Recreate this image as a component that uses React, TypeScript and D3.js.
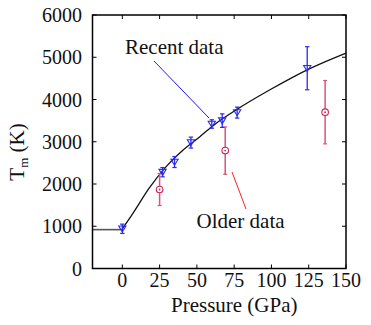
import React from "react";
import * as d3 from "d3";

const xTicks = [0, 25, 50, 75, 100, 125, 150];
const yTicks = [0, 1000, 2000, 3000, 4000, 5000, 6000];

// melting curve
const curveP = [0, 7, 18, 29.4, 40.6, 52, 63, 76.6, 99, 125, 150];
const curveT = [940, 1300, 1900, 2410, 2800, 3120, 3440, 3760, 4230, 4720, 5100];
const flatP = [-20, 0];
const flatT = [920, 920];

// recent data (blue)
const recentP = [0, 27, 35, 46, 60, 67, 77, 124];
const recentT = [940, 2280, 2520, 2980, 3420, 3500, 3690, 4740];
const recentErr = [110, 110, 130, 130, 100, 160, 130, 510];

// older data (red)
const olderP = [25, 69, 136];
const olderT = [1870, 2790, 3700];
const olderErr = [380, 560, 750];

const W = 371;
const H = 325;
const L = 92.5;
const R = 346;
const T = 15;
const B = 268.5;

const FONT = "'Liberation Serif', 'Times New Roman', Times, 'DejaVu Serif', serif";

export default function App() {
  const x = d3.scaleLinear().domain([-20, 150]).range([L, R]);
  const y = d3.scaleLinear().domain([0, 6000]).range([B, T]);
  const line = d3
    .line<number>()
    .x((_, i) => x(curveP[i]))
    .y((_, i) => y(curveT[i]))
    .curve(d3.curveMonotoneX);
  const flat = d3
    .line<number>()
    .x((_, i) => x(flatP[i]))
    .y((_, i) => y(flatT[i]));
  const blue = "#2a2af0";
  const redBar = "#d9547a";
  const redMark = "#cc2255";
  const tri = (cx: number, cy: number) =>
    `M${cx - 3.6},${cy - 2.8} L${cx + 3.6},${cy - 2.8} L${cx},${cy + 3.2} Z`;
  const ts = { fontFamily: FONT };

  return (
    <svg
      width={W}
      height={H}
      style={{ position: "absolute", left: 0, top: 0, background: "#fff", fontFamily: FONT }}
    >
      <rect x={0} y={0} width={W} height={H} fill="#fff" />
      <path d={flat(flatP) || ""} fill="none" stroke="#555" strokeWidth={1.6} />
      <path d={line(curveP) || ""} fill="none" stroke="#111" strokeWidth={1.3} />

      {olderP.map((p, i) => {
        const cx = x(p);
        const y1 = y(olderT[i] + olderErr[i]);
        const y2 = y(olderT[i] - olderErr[i]);
        return (
          <g key={"o" + i}>
            <line x1={cx} x2={cx} y1={y1} y2={y2} stroke={redBar} strokeWidth={1.5} />
            <line x1={cx - 2} x2={cx + 2} y1={y1} y2={y1} stroke={redBar} strokeWidth={1.2} />
            <line x1={cx - 2} x2={cx + 2} y1={y2} y2={y2} stroke={redBar} strokeWidth={1.2} />
            <circle cx={cx} cy={y(olderT[i])} r={3.3} fill="#fff" stroke={redMark} strokeWidth={1.1} />
            <circle cx={cx} cy={y(olderT[i])} r={0.9} fill={redMark} />
          </g>
        );
      })}

      {recentP.map((p, i) => {
        const cx = x(p);
        const y1 = y(recentT[i] + recentErr[i]);
        const y2 = y(recentT[i] - recentErr[i]);
        return (
          <g key={"r" + i}>
            <line x1={cx} x2={cx} y1={y1} y2={y2} stroke={blue} strokeWidth={1.3} />
            <line x1={cx - 2.2} x2={cx + 2.2} y1={y1} y2={y1} stroke={blue} strokeWidth={1.2} />
            <line x1={cx - 2.2} x2={cx + 2.2} y1={y2} y2={y2} stroke={blue} strokeWidth={1.2} />
            <path d={tri(cx, y(recentT[i]))} fill="none" stroke={blue} strokeWidth={1.1} />
          </g>
        );
      })}

      <line x1={154} y1={61} x2={209} y2={118} stroke="#1a1aff" strokeWidth={1} />
      <line x1={232} y1={172} x2={246} y2={209} stroke="#ff2020" strokeWidth={1} />
      <text x={125} y={54} fontSize={21} fill="#111" style={ts}>Recent data</text>
      <text x={196.5} y={228} fontSize={21} fill="#111" style={ts}>Older data</text>

      {xTicks.map((t) => (
        <g key={"xt" + t}>
          <line x1={x(t)} x2={x(t)} y1={B} y2={B - 4} stroke="#000" strokeWidth={1} />
          <line x1={x(t)} x2={x(t)} y1={T} y2={T + 4} stroke="#000" strokeWidth={1} />
          <text x={x(t)} y={287} fontSize={20} textAnchor="middle" fill="#111" style={ts}>
            {t}
          </text>
        </g>
      ))}
      {yTicks.map((t) => (
        <g key={"yt" + t}>
          <line x1={L} x2={L + 4} y1={y(t)} y2={y(t)} stroke="#000" strokeWidth={1} />
          <line x1={R} x2={R - 4} y1={y(t)} y2={y(t)} stroke="#000" strokeWidth={1} />
          <text x={82} y={y(t) + 7} fontSize={20} textAnchor="end" fill="#111" style={ts}>
            {t}
          </text>
        </g>
      ))}

      <rect x={L} y={T} width={R - L} height={B - T} fill="none" stroke="#000" strokeWidth={1.5} />

      <text x={(L + R) / 2 + 15} y={312} fontSize={21} textAnchor="middle" fill="#111" style={ts}>
        Pressure (GPa)
      </text>
      <text transform="translate(24,152) rotate(-90)" fontSize={21} textAnchor="middle" fill="#111" style={ts}>
        T<tspan fontSize={13} dy={4}>m</tspan>
        <tspan dy={-4}> (K)</tspan>
      </text>
    </svg>
  );
}
